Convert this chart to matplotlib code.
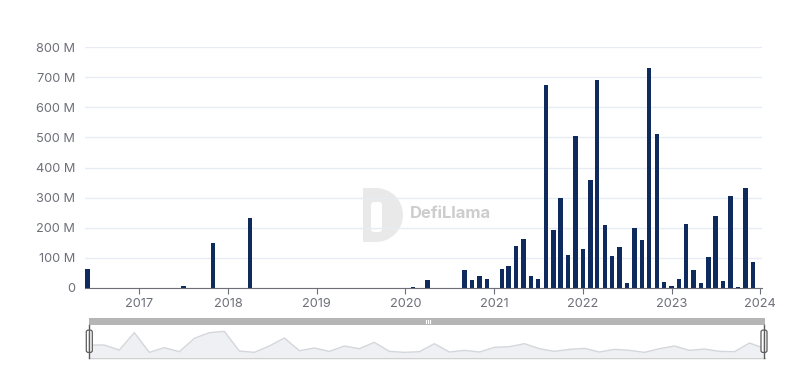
"""Montantes mensais (DefiLlama) com barra de zoom decorativa."""

from datetime import datetime

import matplotlib
matplotlib.use("Agg")
import matplotlib.pyplot as plt
import matplotlib.dates as mdates
from matplotlib.patches import Rectangle, FancyBboxPatch, Wedge

plt.rcParams["font.family"] = ["Inter", "DejaVu Sans"]

# meses com valor (em milhoes); os restantes sao zero
meses = [
    "2016-06", "2017-07", "2017-11", "2018-04", "2020-02", "2020-04",
    "2020-09", "2020-10", "2020-11", "2020-12", "2021-02", "2021-03",
    "2021-04", "2021-05", "2021-06", "2021-07", "2021-08", "2021-09",
    "2021-10", "2021-11", "2021-12", "2022-01", "2022-02", "2022-03",
    "2022-04", "2022-05", "2022-06", "2022-07", "2022-08", "2022-09",
    "2022-10", "2022-11", "2022-12", "2023-01", "2023-02", "2023-03",
    "2023-04", "2023-05", "2023-06", "2023-07", "2023-08", "2023-09",
    "2023-10", "2023-11", "2023-12",
]
valores = [
    62, 8, 151, 234, 3, 26,
    61, 25, 40, 29, 64, 72,
    138, 164, 39, 31, 675, 191,
    298, 108, 506, 131, 360, 691,
    210, 106, 135, 18, 200, 160,
    731, 512, 19, 8, 31, 213,
    61, 17, 103, 239, 22, 307,
    4, 331, 85,
]
anos = list(range(2017, 2025))
marcas_y = [0, 100, 200, 300, 400, 500, 600, 700, 800]

# perfil da mini-serie do seletor de intervalo
perfil_seletor = [
    38, 38, 23, 75, 16, 30, 18, 58, 75, 79, 20, 16, 35, 59, 21, 29,
    19, 35, 27, 46, 19, 16, 18, 42, 17, 22, 17, 31, 33, 42, 27, 19,
    25, 28, 17, 25, 22, 16, 27, 35, 22, 26, 19, 18, 44, 28,
]

W, H = 806, 379
cor_barra = "#0f2a5c"
cor_texto = "#6e7079"

datas = [datetime.strptime(m, "%Y-%m") for m in meses]

fig = plt.figure(figsize=(W / 100, H / 100), dpi=100)


def caixa(x0, y0, x1, y1):
    return [x0 / W, 1 - y1 / H, (x1 - x0) / W, (y1 - y0) / H]


# camada de fundo em pixels: marca d'agua e seletor
fundo = fig.add_axes([0, 0, 1, 1], zorder=0)
fundo.set_xlim(0, W)
fundo.set_ylim(H, 0)
fundo.axis("off")

cinza_logo = "#e9e9e9"
fundo.add_patch(Rectangle((363, 188), 13, 54, color=cinza_logo, lw=0))
fundo.add_patch(Wedge((376, 215), 27, -90, 90, color=cinza_logo, lw=0))
fundo.add_patch(FancyBboxPatch((372, 203), 9, 28, boxstyle="round,pad=1,rounding_size=3",
                               color="white", lw=0))
fundo.text(410, 213, "DefiLlama", fontsize=12, fontweight="bold", color="#cdcdcd",
           va="center", ha="left")

# barra superior do seletor
fundo.add_patch(Rectangle((88.5, 317.5), 676.5, 7.5, color="#b5b5b5", lw=0))
for xm in (425.5, 427.5, 429.5):
    fundo.plot([xm, xm], [319.5, 323], color="white", lw=0.8)
fundo.plot([89.3, 765], [357.7, 357.7], color="#c9c9c9", lw=1)

ax = fig.add_axes(caixa(85, 47, 762, 288), zorder=1)
ax.set_facecolor("none")
ax.bar(datas, valores, width=18, color=cor_barra, zorder=3)
ax.set_xlim(datetime(2016, 5, 22), datetime(2024, 1, 8))
ax.set_ylim(0, 800)

ax.set_yticks(marcas_y)
ax.set_yticklabels([f"{v} M" if v else "0" for v in marcas_y])
ax.set_xticks([datetime(a, 1, 1) for a in anos])
ax.xaxis.set_major_formatter(mdates.DateFormatter("%Y"))

ax.grid(axis="y", color="#e6ebf4", lw=1, zorder=0)
for lado in ("top", "right", "left"):
    ax.spines[lado].set_visible(False)
ax.spines["bottom"].set_color(cor_texto)
ax.spines["bottom"].set_zorder(4)
ax.tick_params(axis="y", length=0, pad=7, labelsize=9.2, labelcolor=cor_texto)
ax.tick_params(axis="x", length=4, color=cor_texto, pad=3, labelsize=9.2,
               labelcolor=cor_texto)

# mini-serie do seletor
sel = fig.add_axes(caixa(89.3, 325, 764.5, 357.7), zorder=1)
xs = range(len(perfil_seletor))
sel.fill_between(xs, perfil_seletor, color="#eef0f3", lw=0)
sel.plot(xs, perfil_seletor, color="#d3d6db", lw=1)
sel.set_xlim(0, len(perfil_seletor) - 1)
sel.set_ylim(0, 98)
sel.axis("off")

# pegas do seletor
topo = fig.add_axes([0, 0, 1, 1], zorder=2)
topo.set_xlim(0, W)
topo.set_ylim(H, 0)
topo.axis("off")
for xc in (89.3, 764):
    topo.plot([xc, xc], [325, 358], color="#5c5c5c", lw=1)
    topo.add_patch(FancyBboxPatch((xc - 2.6, 330.5), 5.2, 21.5,
                                  boxstyle="round,pad=0.4,rounding_size=2",
                                  facecolor="white", edgecolor="#5c5c5c", lw=0.9))
    topo.plot([xc - 1, xc - 1], [333, 350], color="#c8c8c8", lw=0.5)

fig.savefig("out.png", dpi=100)
plt.close(fig)
